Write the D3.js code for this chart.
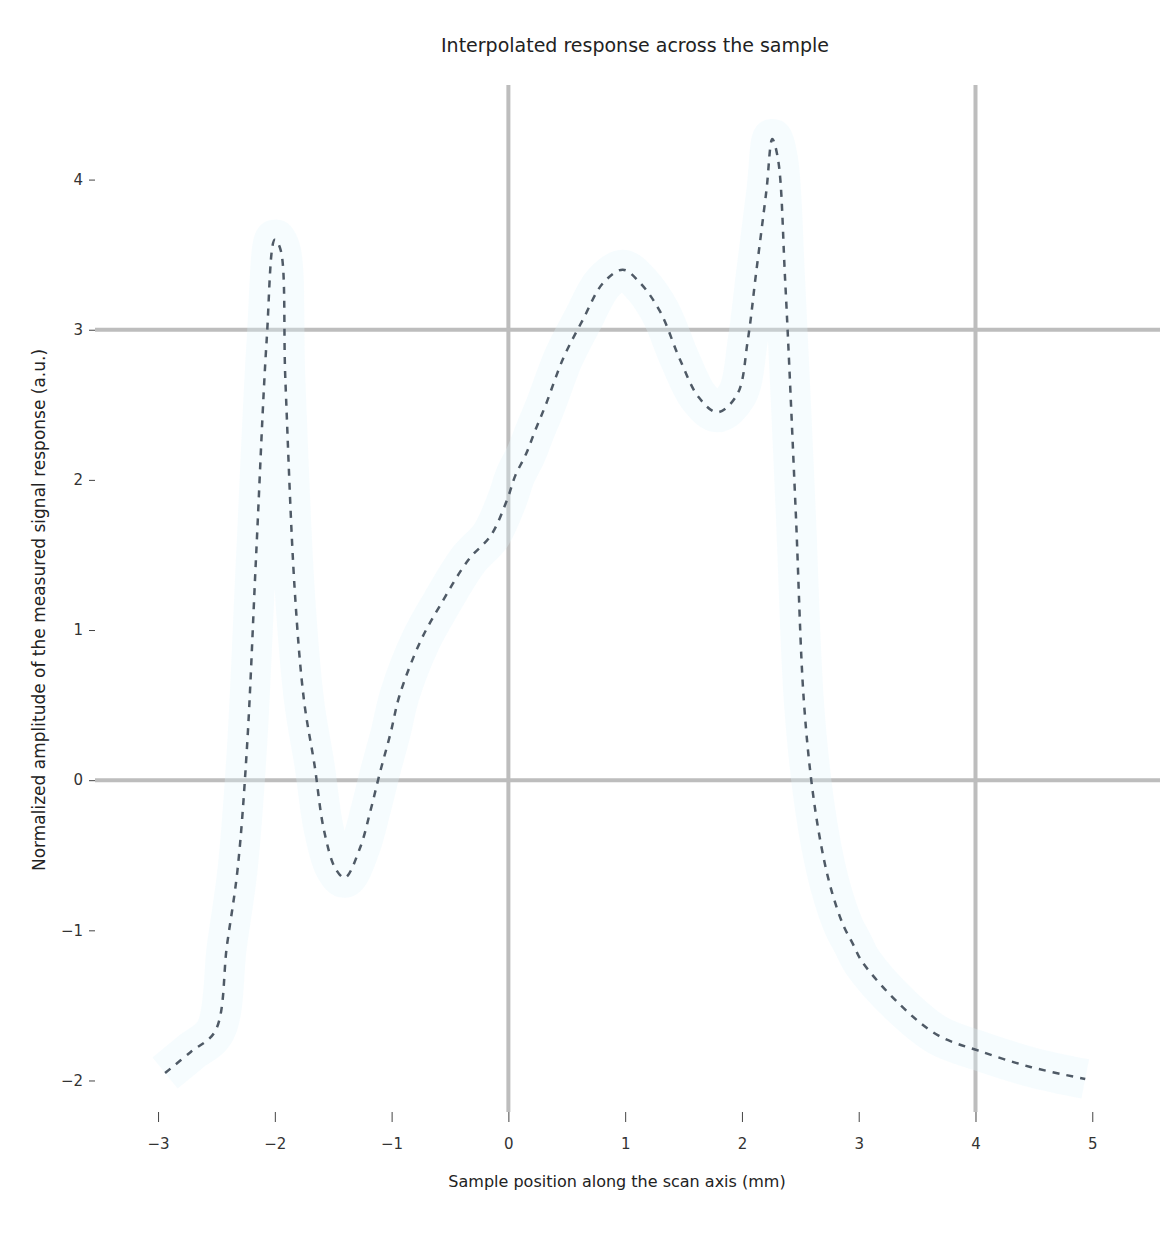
<!DOCTYPE html>
<html>
<head>
<meta charset="utf-8">
<script src="https://cdn.jsdelivr.net/npm/d3@7"></script>
<style>
  body { margin: 0; background: #fff; }
  text { font-family: "DejaVu Sans", sans-serif; }
</style>
</head>
<body>
<div id="chart"></div>
<script>
const width = 1168;
const height = 1239;

// values
const xValues = [-2.94, -2.72, -2.51, -2.41, -2.32, -2.24, -2.16, -2.07, -2.0, -1.95,
  -1.91, -1.83, -1.75, -1.66, -1.58, -1.48, -1.4, -1.27, -1.18, -1.1,
  -1.01, -0.93, -0.75, -0.58, -0.34, -0.15, -0.01, 0.06, 0.15, 0.23,
  0.32, 0.47, 0.64, 0.81, 0.98, 1.13, 1.3, 1.47, 1.63, 1.79,
  1.96, 2.05, 2.12, 2.21, 2.26, 2.31, 2.37, 2.46, 2.53, 2.61,
  2.7, 2.78, 2.87, 2.95, 3.03, 3.36, 3.68, 4.02, 4.47, 4.94];
const yValues = [-1.95, -1.81, -1.67, -1.1, -0.6, 0.2, 1.5, 2.93, 3.6, 3.53,
  2.67, 1.27, 0.53, 0.1, -0.33, -0.59, -0.65, -0.45, -0.2, 0.05,
  0.31, 0.57, 0.93, 1.17, 1.47, 1.63, 1.87, 2.03, 2.17, 2.33,
  2.5, 2.81, 3.07, 3.31, 3.4, 3.31, 3.12, 2.8, 2.55, 2.45,
  2.57, 2.93, 3.37, 3.93, 4.27, 4.13, 3.33, 1.8, 0.53, -0.1,
  -0.52, -0.77, -0.97, -1.09, -1.21, -1.5, -1.7, -1.8, -1.91, -1.99];
const xTicks = [-3, -2, -1, 0, 1, 2, 3, 4, 5];
const yTicks = [-2, -1, 0, 1, 2, 3, 4];
const refX = [0, 4];
const refY = [0, 3];

const titleText = "Interpolated response across the sample";
const xLabel = "Sample position along the scan axis (mm)";
const yLabel = "Normalized amplitude of the measured signal response (a.u.)";

const plot = { left: 95, right: 1160, top: 85, bottom: 1112 };

const x = d3.scaleLinear().domain([-3.54, 5.58]).range([plot.left, plot.right]);
const y = d3.scaleLinear().domain([-2.21, 4.63]).range([plot.bottom, plot.top]);

const svg = d3.select("#chart").append("svg")
  .attr("width", width)
  .attr("height", height)
  .style("background", "#fff");

// reference lines
svg.selectAll("line.refx").data(refX).join("line")
  .attr("class", "refx")
  .attr("x1", d => x(d)).attr("x2", d => x(d))
  .attr("y1", plot.top).attr("y2", plot.bottom)
  .attr("stroke", "#bdbdbd").attr("stroke-width", 4);

svg.selectAll("line.refy").data(refY).join("line")
  .attr("class", "refy")
  .attr("x1", plot.left).attr("x2", plot.right)
  .attr("y1", d => y(d)).attr("y2", d => y(d))
  .attr("stroke", "#bdbdbd").attr("stroke-width", 4);

const points = xValues.map((v, i) => [v, yValues[i]]);
const line = d3.line()
  .x(d => x(d[0]))
  .y(d => y(d[1]))
  .curve(d3.curveCatmullRom.alpha(0.5));

// faint band round the curve
svg.append("path")
  .datum(points)
  .attr("d", line)
  .attr("fill", "none")
  .attr("stroke", "#e2f5fb")
  .attr("stroke-opacity", 0.3)
  .attr("stroke-width", 40)
  .attr("stroke-linejoin", "round");

svg.append("path")
  .datum(points)
  .attr("d", line)
  .attr("fill", "none")
  .attr("stroke", "#4f5a66")
  .attr("stroke-width", 2.5)
  .attr("stroke-dasharray", "7,7");

// axes
const xAxis = svg.append("g")
  .attr("transform", `translate(0,${plot.bottom})`)
  .call(d3.axisBottom(x).tickValues(xTicks).tickFormat(d3.format("d"))
    .tickSize(10).tickPadding(16));
const yAxis = svg.append("g")
  .attr("transform", `translate(${plot.left},0)`)
  .call(d3.axisLeft(y).tickValues(yTicks).tickFormat(d3.format("d"))
    .tickSize(6).tickPadding(6));

[xAxis, yAxis].forEach(g => {
  g.select(".domain").remove();
  g.selectAll(".tick line").attr("stroke", "#444");
  g.selectAll(".tick text").attr("fill", "#333").attr("font-size", 15);
});

svg.append("text")
  .attr("x", 635).attr("y", 52)
  .attr("text-anchor", "middle")
  .style("font-size", "19px")
  .attr("fill", "#222")
  .text(titleText);

svg.append("text")
  .attr("x", 617).attr("y", 1187)
  .attr("text-anchor", "middle")
  .style("font-size", "16px")
  .attr("fill", "#222")
  .text(xLabel);

svg.append("text")
  .attr("transform", `translate(45,610) rotate(-90)`)
  .attr("text-anchor", "middle")
  .style("font-size", "17px")
  .attr("fill", "#222")
  .text(yLabel);
</script>
</body>
</html>
